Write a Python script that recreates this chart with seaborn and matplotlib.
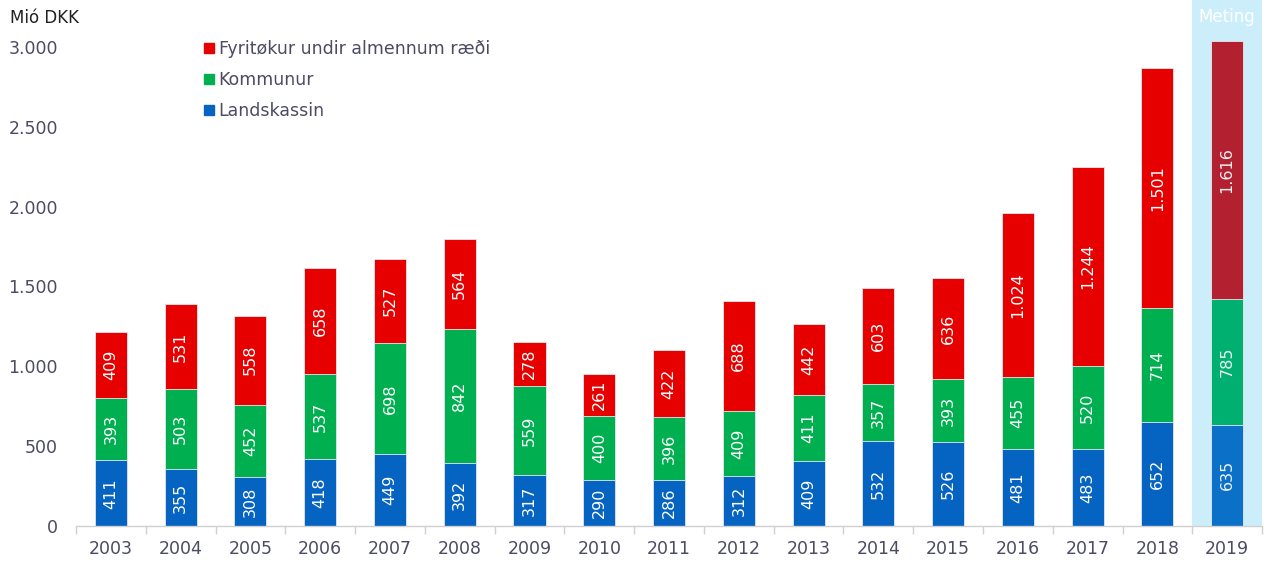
import numpy as np
import pandas as pd
import seaborn as sns
import matplotlib.pyplot as plt
from matplotlib.lines import Line2D
from matplotlib.ticker import FuncFormatter

years = ['2003', '2004', '2005', '2006', '2007', '2008', '2009', '2010', '2011',
         '2012', '2013', '2014', '2015', '2016', '2017', '2018', '2019']
landskassin = [411, 355, 308, 418, 449, 392, 317, 290, 286, 312, 409, 532, 526, 481, 483, 652, 635]
kommunur = [393, 503, 452, 537, 698, 842, 559, 400, 396, 409, 411, 357, 393, 455, 520, 714, 785]
fyritokur = [409, 531, 558, 658, 527, 564, 278, 261, 422, 688, 442, 603, 636, 1024, 1244, 1501, 1616]

series_names = ['Landskassin', 'Kommunur', 'Fyritøkur undir almennum ræði']
colors = ['#0563C1', '#00B050', '#E60000']
colors_est = ['#0A70C8', '#00B070', '#B3202F']

df = pd.DataFrame({'year': years, 'Landskassin': landskassin,
                   'Kommunur': kommunur, 'Fyritøkur': fyritokur})
df['low'] = df['Landskassin']
df['mid'] = df['Landskassin'] + df['Kommunur']
df['top'] = df['mid'] + df['Fyritøkur']

sns.set_theme(style='white')
plt.rcParams['font.family'] = ['DejaVu Sans']
text_col = '#4B4B63'

fig = plt.figure(figsize=(12.71, 5.63), dpi=100)
ax = fig.add_axes([0.0598, 0.0657, 0.9332, 0.9343])

ax.axvspan(15.5, 16.5, color='#CCEEFA', zorder=0, lw=0)

# draw cumulative totals on top of each other, tallest first
for col, i in [('top', 2), ('mid', 1), ('low', 0)]:
    pal = [colors[i]] * (len(years) - 1) + [colors_est[i]]
    sns.barplot(data=df, x='year', y=col, hue='year', palette=pal, legend=False,
                width=0.46, ax=ax, saturation=1, edgecolor='#E8E8F0', linewidth=0.6,
                zorder=2)

stacks = [df['Landskassin'].values, df['Kommunur'].values, df['Fyritøkur'].values]
bottoms = [np.zeros(len(years)), df['low'].values, df['mid'].values]
for vals, bot in zip(stacks, bottoms):
    for x, (v, b) in enumerate(zip(vals, bot)):
        lab = f'{v:,}'.replace(',', '.')
        ax.text(x, b + v / 2, lab, rotation=90, ha='center', va='center',
                color='#F0F0F5' if x == 16 else 'white', fontsize=11.5, zorder=3)

ax.text(16, 3190, 'Meting', ha='center', va='center', color='white', fontsize=12)

ax.set_ylim(0, 3294)
ax.set_xlim(-0.5, 16.5)
ax.set_yticks(range(0, 3001, 500))
ax.yaxis.set_major_formatter(FuncFormatter(lambda v, p: f'{int(v):,}'.replace(',', '.')))
ax.set_xlabel('')
ax.set_ylabel('')

for s in ['top', 'right', 'left']:
    ax.spines[s].set_visible(False)
ax.spines['bottom'].set_color('#D0D0D0')
ax.spines['bottom'].set_linewidth(1)

ax.set_xticks(np.arange(-0.5, 17, 1), minor=True)
ax.tick_params(axis='x', which='minor', length=6, color='#D0D0D0', width=1, bottom=True)
ax.tick_params(axis='x', which='major', length=0, pad=10, labelsize=12.5, labelcolor=text_col)
ax.tick_params(axis='y', length=0, pad=13, labelsize=12.5, labelcolor=text_col)

fig.text(0.008, 0.968, 'Mió DKK', fontsize=12, color='#222222', ha='left', va='center')

handles = [Line2D([], [], marker='s', ls='', color=colors[i], markersize=7) for i in [2, 1, 0]]
labels = [series_names[i] for i in [2, 1, 0]]
ax.legend(handles, labels, loc='upper left', bbox_to_anchor=(0.099, 0.937), frameon=False,
          fontsize=12.5, labelcolor=text_col, handletextpad=0.05, handlelength=1.0,
          labelspacing=0.75, borderaxespad=0)

fig.savefig('out.png', dpi=100)
